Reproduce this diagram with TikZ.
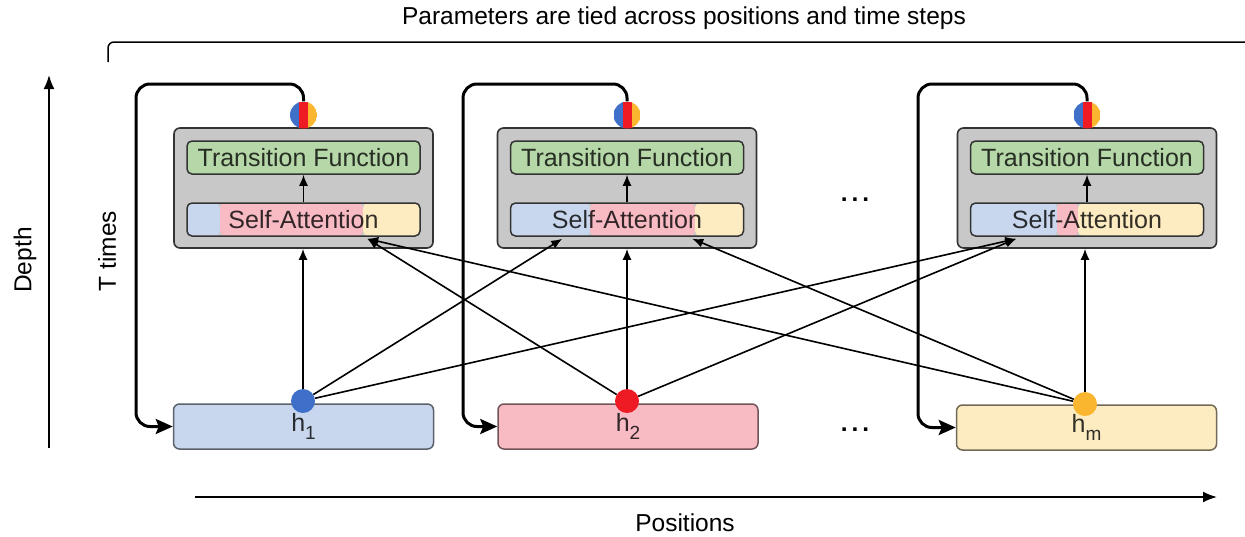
\documentclass[tikz,border=0pt]{standalone}
\usepackage{fontspec}
\setmainfont{Liberation Sans}
\usetikzlibrary{arrows.meta}

\definecolor{panelgray}{HTML}{C8C8C8}
\definecolor{lblue}{HTML}{C9D7EE}
\definecolor{lred}{HTML}{F8BBC4}
\definecolor{lyel}{HTML}{FDEBC2}
\definecolor{lgreen}{HTML}{B6D7A8}
\definecolor{dblue}{HTML}{3E70C9}
\definecolor{dred}{HTML}{EE1B24}
\definecolor{dyel}{HTML}{FBB62F}
\definecolor{edge}{HTML}{333333}

\tikzset{
  lbl/.style={font=\fontsize{24.5}{29}\selectfont, inner sep=0pt},
  panel/.style={draw=edge, line width=1.6pt, fill=panelgray, rounded corners=6pt,
    minimum width=259pt, minimum height=120pt, inner sep=0pt},
  tfbox/.style={draw=edge, line width=1.5pt, fill=lgreen, rounded corners=5pt,
    minimum width=233pt, minimum height=33pt, inner sep=0pt,
    font=\fontsize{25}{29}\selectfont, text=black, text opacity=0.78},
  sabox/.style 2 args={draw=edge, line width=1.5pt, rounded corners=5pt,
    minimum width=233pt, minimum height=33pt, inner sep=0pt,
    font=\fontsize{25}{29}\selectfont, text=black, text opacity=0.8,
    path picture={
      \fill[lblue] (path picture bounding box.south west) rectangle ([xshift=#1]path picture bounding box.north west);
      \fill[lred] ([xshift=#1]path picture bounding box.south west) rectangle ([xshift=#2]path picture bounding box.north west);
      \fill[lyel] ([xshift=#2]path picture bounding box.south west) rectangle (path picture bounding box.north east);
    }},
  state/.style={circle, minimum size=27pt, inner sep=0pt,
    path picture={
      \fill[dblue] (path picture bounding box.south west) rectangle ([xshift=-4.5pt]path picture bounding box.north);
      \fill[dred] ([xshift=-4.5pt]path picture bounding box.south) rectangle ([xshift=4.5pt]path picture bounding box.north);
      \fill[dyel] ([xshift=4.5pt]path picture bounding box.south) rectangle (path picture bounding box.north east);
    }},
  hbox/.style={draw=#1!45!black, line width=1.5pt, fill=#1, rounded corners=6pt,
    minimum width=260pt, minimum height=45pt, inner sep=0pt,
    font=\fontsize{25}{29}\selectfont, text=black, text opacity=0.8},
  dot/.style={circle, fill=#1, minimum size=24pt, inner sep=0pt},
  link/.style={line width=1.6pt, -{Latex[length=11pt,width=9pt]}},
  recur/.style={line width=3pt, rounded corners=14pt, -{Stealth[length=17pt,width=15pt,inset=3pt]}},
  axis/.style={line width=1.8pt, -{Latex[length=14pt,width=11pt]}}
}

\newcommand{\hsub}[1]{h\raisebox{-8pt}{\fontsize{19}{20}\selectfont #1}}

\begin{document}
\begin{tikzpicture}[x=1pt, y=-1pt]
  \useasboundingbox (0,0) rectangle (1245,536);

  % shared-parameter bracket and its caption
  \node[lbl] (tied) at (684,18) {Parameters are tied across positions and time steps};
  \coordinate (bkA) at (108,62);
  \coordinate (bkB) at (108,42);
  \coordinate (bkC) at (1245,42);
  \draw[line width=1.5pt, rounded corners=6pt] (bkA) -- (bkB) -- (bkC);

  % depth axis
  \coordinate (dpA) at (49,448);
  \coordinate (dpB) at (49,75);
  \draw[axis] (dpA) -- (dpB);
  \node[lbl, rotate=90] (depth) at (25,260) {Depth};
  \node[lbl, rotate=90] (ttimes) at (107,251) {T times};

  % position axis
  \coordinate (psA) at (195,497);
  \coordinate (psB) at (1217,497);
  \draw[axis] (psA) -- (psB);
  \node[lbl] (positions) at (685,523) {Positions};

  % recurrent blocks
  \node[panel] (g1) at (303.5,188) {};
  \node[panel] (g2) at (627,188) {};
  \node[panel] (g3) at (1087,188) {};

  \node[tfbox] (tf1) at (303.5,157.5) {Transition Function};
  \node[tfbox] (tf2) at (627,157.5) {Transition Function};
  \node[tfbox] (tf3) at (1087,157.5) {Transition Function};

  \node[sabox={33pt}{176pt}] (sa1) at (303.5,219.5) {Self-Attention};
  \node[sabox={79.5pt}{184.5pt}] (sa2) at (627,219.5) {Self-Attention};
  \node[sabox={86.5pt}{107.5pt}] (sa3) at (1087,219.5) {Self-Attention};

  \draw[link] (sa1) -- (tf1);
  \draw[link] (sa2) -- (tf2);
  \draw[link] (sa3) -- (tf3);

  \node[state] (s1) at (303.5,115) {};
  \node[state] (s2) at (627,115) {};
  \node[state] (s3) at (1087,115) {};

  % hidden states per position
  \node[hbox=lblue] (h1) at (303.5,426.5) {\hsub{1}};
  \node[hbox=lred] (h2) at (628,426.5) {\hsub{2}};
  \node[hbox=lyel] (hm) at (1086.5,427.5) {\hsub{m}};

  \node[lbl, font=\bfseries\fontsize{24.5}{29}\selectfont] (dotsA) at (855,200) {.\hspace{4pt}.\hspace{4pt}.};
  \node[lbl, font=\bfseries\fontsize{24.5}{29}\selectfont] (dotsB) at (855,430) {.\hspace{4pt}.\hspace{4pt}.};

  % recurrence loops back to the inputs
  \coordinate (k1) at (136,84);
  \coordinate (k2) at (463,84);
  \coordinate (k3) at (918,84);
  \draw[recur] (s1.north) -- (s1.north |- k1) -- (k1) -- (k1 |- h1.west) -- (h1.west);
  \draw[recur] (s2.north) -- (s2.north |- k2) -- (k2) -- (k2 |- h2.west) -- (h2.west);
  \draw[recur] (s3.north) -- (s3.north |- k3) -- (k3) -- (k3 |- hm.west) -- (hm.west);

  % position markers
  \node[dot=dblue] (d1) at (303,401) {};
  \node[dot=dred] (d2) at (627,401) {};
  \node[dot=dyel] (dm) at (1085,404) {};

  % attention connections
  \draw[link] (d1) -- (g1.south -| d1);
  \draw[link] (d2) -- (g2.south -| d2);
  \draw[link] (dm) -- (g3.south -| dm);

  \draw[link] (d1) -- ([xshift=52.5pt,yshift=-2pt]sa2.south west);
  \draw[link] (d1) -- ([xshift=46.5pt,yshift=-2pt]sa3.south west);
  \draw[link] (d2) -- ([xshift=181pt,yshift=-2pt]sa1.south west);
  \draw[link] (d2) -- ([xshift=46.5pt,yshift=-2pt]sa3.south west);
  \draw[link] (dm) -- ([xshift=181pt,yshift=-2pt]sa1.south west);
  \draw[link] (dm) -- ([xshift=182.5pt,yshift=-2pt]sa2.south west);
\end{tikzpicture}
\end{document}
